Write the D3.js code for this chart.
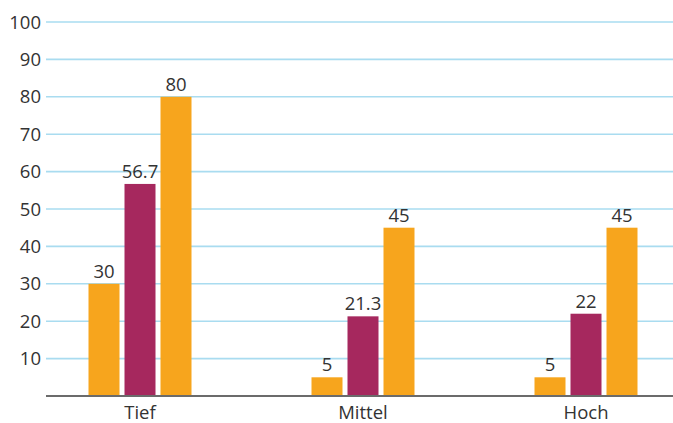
<!DOCTYPE html>
<html>
<head>
<meta charset="utf-8">
<script src="https://cdn.jsdelivr.net/npm/d3@7"></script>
<style>
  body { margin: 0; background: #fff; }
  text { font-family: "Open Sans", sans-serif; fill: #333; }
</style>
</head>
<body>
<div id="viz"></div>
<script>
// chart data
const categories = ["Tief", "Mittel", "Hoch"];
const seriesNames = ["s1", "s2", "s3"];
const seriesColors = ["#f7a51d", "#a6285e", "#f7a51d"];
const seriesValues = [
  [30, 5, 5],        // s1
  [56.7, 21.3, 22],  // s2
  [80, 45, 45]       // s3
];
const yTicks = [10, 20, 30, 40, 50, 60, 70, 80, 90, 100];

const width = 673, height = 423;
const plotLeft = 46, plotRight = 673, plotTop = 22, plotBottom = 396;
const fontSize = 18.5;

const svg = d3.select("#viz")
  .append("svg")
    .attr("width", width)
    .attr("height", height);

// scales
const x0 = d3.scaleBand()
  .domain(categories)
  .range([28.5, 697.5])
  .padding(0);

const x1 = d3.scaleBand()
  .domain(seriesNames)
  .range([-51.5, 51.5])
  .paddingInner(5 / 36)
  .paddingOuter(0);

const y = d3.scaleLinear()
  .domain([0, 100])
  .range([plotBottom, plotTop]);

// gridlines
svg.append("g")
  .selectAll("line")
  .data(yTicks)
  .join("line")
    .attr("x1", plotLeft)
    .attr("x2", plotRight)
    .attr("y1", d => y(d))
    .attr("y2", d => y(d))
    .attr("stroke", "#a9dcf0")
    .attr("stroke-width", 1.6);

// y tick labels
svg.append("g")
  .selectAll("text")
  .data(yTicks)
  .join("text")
    .attr("x", 41)
    .attr("y", d => y(d))
    .attr("dy", "0.36em")
    .attr("text-anchor", "end")
    .attr("font-size", fontSize)
    .text(d => d);

// bars, one row per series x category
const rows = [];
seriesNames.forEach((s, i) => {
  categories.forEach((c, j) => {
    rows.push({ series: s, cat: c, value: seriesValues[i][j], color: seriesColors[i] });
  });
});

const barX = d => x0(d.cat) + x0.bandwidth() / 2 + x1(d.series);

svg.append("g")
  .selectAll("rect")
  .data(rows)
  .join("rect")
    .attr("x", barX)
    .attr("width", x1.bandwidth())
    .attr("y", d => y(d.value))
    .attr("height", d => y(0) - y(d.value))
    .attr("fill", d => d.color);

// value labels
svg.append("g")
  .selectAll("text")
  .data(rows)
  .join("text")
    .attr("x", d => barX(d) + x1.bandwidth() / 2)
    .attr("y", d => y(d.value) - 6)
    .attr("text-anchor", "middle")
    .attr("font-size", fontSize)
    .text(d => d.value);

// baseline
svg.append("line")
  .attr("x1", plotLeft)
  .attr("x2", plotRight)
  .attr("y1", y(0))
  .attr("y2", y(0))
  .attr("stroke", "#6b6b6b")
  .attr("stroke-width", 2);

// category labels
svg.append("g")
  .selectAll("text")
  .data(categories)
  .join("text")
    .attr("x", d => x0(d) + x0.bandwidth() / 2)
    .attr("y", 419)
    .attr("text-anchor", "middle")
    .attr("font-size", fontSize)
    .text(d => d);
</script>
</body>
</html>
